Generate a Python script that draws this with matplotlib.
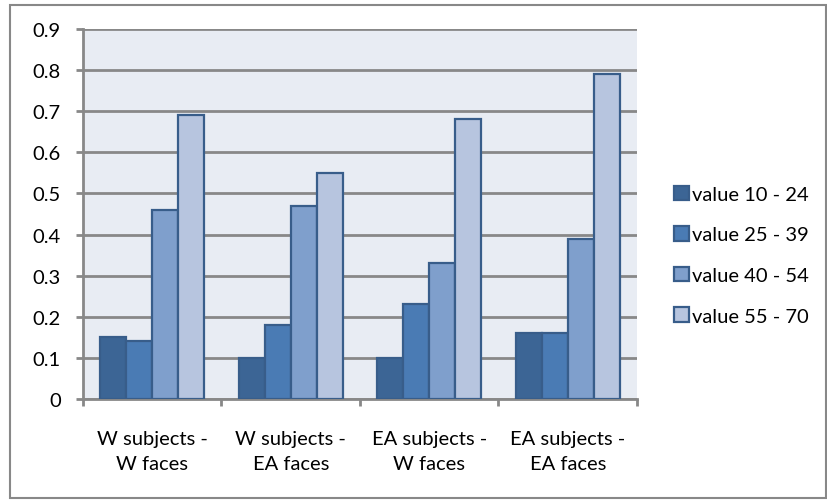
import matplotlib
matplotlib.use("Agg")
import matplotlib.pyplot as plt
import numpy as np
from matplotlib.patches import Rectangle

categories = ["W subjects -\nW faces", "W subjects -\nEA faces",
              "EA subjects -\nW faces", "EA subjects -\nEA faces"]
series_names = ["value 10 - 24", "value 25 - 39", "value 40 - 54", "value 55 - 70"]
value_10_24 = [0.15, 0.10, 0.10, 0.16]
value_25_39 = [0.14, 0.18, 0.23, 0.16]
value_40_54 = [0.46, 0.47, 0.33, 0.39]
value_55_70 = [0.69, 0.55, 0.68, 0.79]
y_ticks = [0, 0.1, 0.2, 0.3, 0.4, 0.5, 0.6, 0.7, 0.8, 0.9]
y_tick_labels = ["0", "0.1", "0.2", "0.3", "0.4", "0.5", "0.6", "0.7", "0.8", "0.9"]

series = [value_10_24, value_25_39, value_40_54, value_55_70]
colors = ["#3C6595", "#4A7BB4", "#7F9FCC", "#B7C5DF"]
edge = "#385D8A"
grid_col = "#888888"
FS = 14.5

plt.rcParams["font.family"] = ["Lato", "DejaVu Sans"]

W, H = 828, 502
fig = plt.figure(figsize=(W / 100, H / 100), dpi=100)
fig.patch.set_facecolor("white")

# outer chart frame
fig.add_artist(Rectangle((10 / W, 3 / H), 816 / W, (H - 6 - 3) / H,
                         transform=fig.transFigure, fill=False,
                         edgecolor=grid_col, linewidth=1.5))

ax = fig.add_axes([83 / W, (H - 400) / H, 554 / W, 370 / H])
ax.set_facecolor("#E8ECF3")

n = len(categories)
bw = 0.1875
x = np.arange(n)
for i, (vals, name, c) in enumerate(zip(series, series_names, colors)):
    ax.bar(x + (i - 1.5) * bw, vals, width=bw, color=c, edgecolor=edge,
           linewidth=1.6, label=name, zorder=3)

ax.set_xlim(-0.5, n - 0.5)
ax.set_ylim(0, 0.9)
ax.set_yticks(y_ticks)
ax.set_yticklabels(y_tick_labels, fontsize=FS)
ax.yaxis.grid(True, color=grid_col, linewidth=2, zorder=1)
ax.set_axisbelow(True)

ax.set_xticks(np.arange(n + 1) - 0.5)
ax.set_xticklabels([])
ax.set_xticks(x, minor=True)
ax.set_xticklabels(categories, minor=True, fontsize=FS, linespacing=1.6)
ax.tick_params(axis="x", which="minor", length=0, pad=22)
ax.tick_params(axis="x", which="major", length=5, width=2, color=grid_col, direction="out")
ax.tick_params(axis="y", length=5, width=2, color=grid_col, direction="out", pad=11)

for s in ["top", "right"]:
    ax.spines[s].set_visible(False)
for s in ["left", "bottom"]:
    ax.spines[s].set_color(grid_col)
    ax.spines[s].set_linewidth(2)

leg = ax.legend(loc="center left", bbox_to_anchor=(1.067, 0.389), frameon=False,
                fontsize=FS, handlelength=0.75, handleheight=0.75, handletextpad=0.15,
                labelspacing=1.15, borderaxespad=0, borderpad=0)

fig.savefig("out.png", dpi=100, facecolor="white")
